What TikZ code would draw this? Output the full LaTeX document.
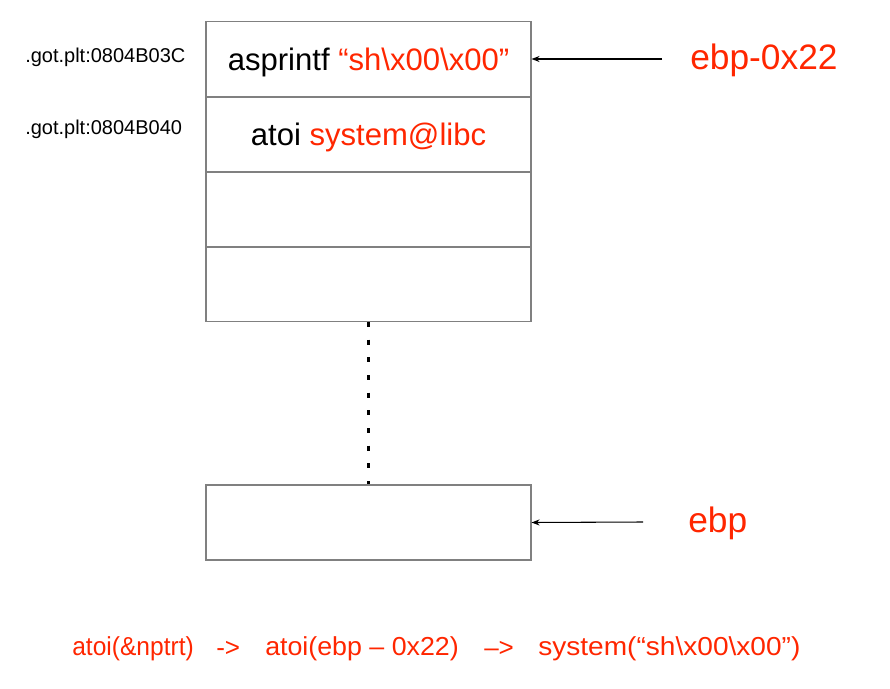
\documentclass[tikz,border=0pt]{standalone}
\usepackage{fontspec}
\setmainfont{Liberation Sans}
\usetikzlibrary{arrows.meta}
\definecolor{kred}{RGB}{255,38,0}
\definecolor{kgray}{RGB}{128,128,128}
\begin{document}
\begin{tikzpicture}[x=0.75pt,y=-0.75pt,
  cell/.style={draw=kgray,line width=0.8pt,minimum width=243.75pt,minimum height=56.25pt,inner sep=0pt,text depth=0pt,font=\fontsize{23.3}{27}\selectfont},
  addr/.style={anchor=west,inner sep=0pt,font=\fontsize{15}{18}\selectfont},
  biglbl/.style={anchor=west,inner sep=0pt,text=kred,font=\fontsize{26.5}{31}\selectfont},
  formula/.style={anchor=west,inner sep=0pt,text=kred,font=\fontsize{19.5}{23}\selectfont},
  ptr/.style={-{Stealth[length=6pt,width=4.5pt]},line width=0.8pt,black}]
\useasboundingbox (0,0) rectangle (890,689);
\node[cell] (r1) at (368.5,59) {asprintf \textcolor{kred}{“sh\textbackslash x00\textbackslash x00”}};
\node[cell] (r2) at (368.5,134.5) {atoi \textcolor{kred}{system@libc}};
\node[cell] (r3) at (368.5,209.5) {};
\node[cell] (r4) at (368.5,284) {};
\node[cell] (bot) at (368.5,522.5) {};
\node[addr] (l1) at (25,57.5) {.got.plt:0804B03C};
\node[addr] (l2) at (25,129.5) {.got.plt:0804B040};
\node[biglbl] (e1) at (690,60) {ebp-0x22};
\node[biglbl] (e2) at (688,523) {ebp};
\coordinate (s1) at (662,59);
\coordinate (s2) at (643,522);
\draw[ptr] (s1) -- (r1.east);
\draw[ptr] (s2) -- (bot.east);
\draw[line width=1.8pt,dash pattern=on 3.75pt off 9.5pt] (r4.south) -- (bot.north);
\node[formula] (f1) at (72,649) {\scalebox{0.945}[1]{atoi(\&nptrt)}};
\node[formula] (f2) at (216,649) {->};
\node[formula] (f3) at (265,649) {\scalebox{1.03}[1]{atoi(ebp – 0x22)}};
\node[formula] (f4) at (484,649) {–>};
\node[formula] (f5) at (538,649) {\scalebox{1.08}[1]{system(“sh\textbackslash x00\textbackslash x00”)}};
\end{tikzpicture}
\end{document}
